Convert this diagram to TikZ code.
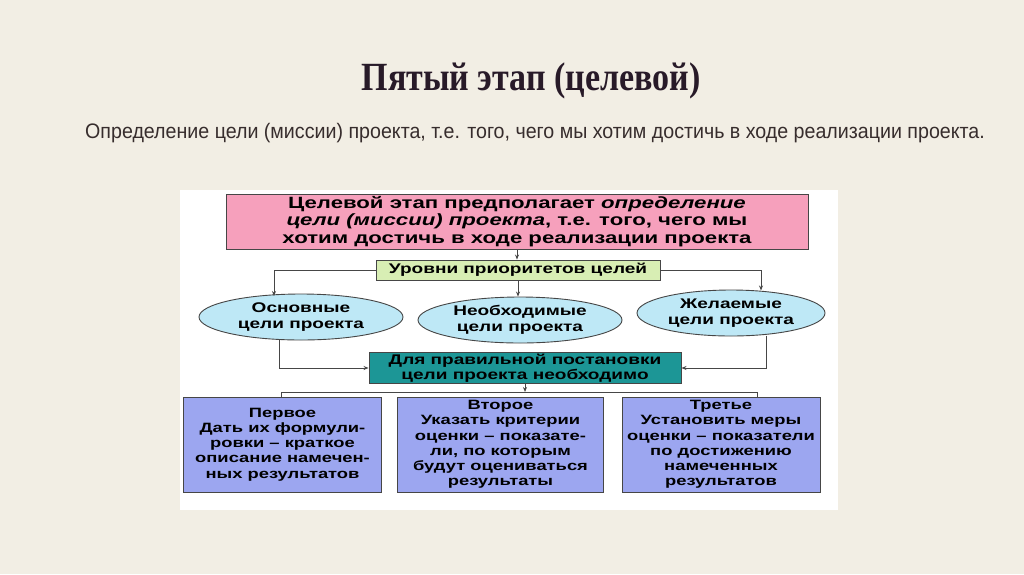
\documentclass[tikz,border=0pt]{standalone}
\usepackage{fontspec}
\setmainfont{Liberation Sans}
\newfontfamily\chartfont[FakeStretch=1.36]{Liberation Sans}
\newfontfamily\titlefont[FakeStretch=0.85]{Liberation Serif}
\newfontfamily\leadfont[FakeStretch=0.935]{Liberation Sans}
\usetikzlibrary{arrows.meta,shapes.geometric}

\definecolor{slidebg}{RGB}{242,238,228}
\definecolor{titleink}{RGB}{40,26,40}
\definecolor{leadink}{RGB}{55,45,45}
\definecolor{linegray}{RGB}{70,70,70}
\definecolor{goalpink}{RGB}{246,160,188}
\definecolor{levelgreen}{RGB}{216,238,180}
\definecolor{ovalcyan}{RGB}{190,232,246}
\definecolor{ruleteal}{RGB}{28,150,150}
\definecolor{cardblue}{RGB}{156,166,240}

\begin{document}
\begin{tikzpicture}[x=1pt, y=-1pt,
  >={Stealth[length=5pt,width=4pt]},
  link/.style={draw=linegray, line width=0.9pt},
  box/.style={draw=linegray, line width=0.9pt, align=center, inner sep=0pt},
  goalbox/.style={box, fill=goalpink, minimum width=582pt, minimum height=55pt,
    font=\chartfont\bfseries\fontsize{16.3}{17.5}\selectfont},
  levelbox/.style={box, fill=levelgreen, minimum width=284pt, minimum height=20pt,
    font=\chartfont\bfseries\fontsize{14}{15}\selectfont},
  oval/.style={box, ellipse, fill=ovalcyan, minimum height=46pt,
    font=\chartfont\bfseries\fontsize{14}{16.5}\selectfont},
  rulebox/.style={box, fill=ruleteal, minimum width=312pt, minimum height=31pt,
    font=\chartfont\bfseries\fontsize{14}{15.5}\selectfont},
  stepcard/.style={box, fill=cardblue, minimum height=95pt,
    font=\chartfont\bfseries\fontsize{13.5}{15.2}\selectfont}]
  \useasboundingbox (0,0) rectangle (1024,574);

  % Slide
  \fill[slidebg] (0,0) rectangle (1024,574);
  \fill[white] (180,190) rectangle (838,510);

  % Heading
  \node[font=\titlefont\bfseries\fontsize{40}{44}\selectfont, text=titleink] (title) at (531,81) {Пятый этап (целевой)};
  \node[font=\leadfont\fontsize{21}{24}\selectfont, text=leadink] (lead) at (535,133)
    {Определение цели (миссии) проекта, т.е. того, чего мы хотим достичь в ходе реализации проекта.};

  % Goal and levels
  \node[goalbox] (goal) at (517,221.5) {Целевой этап предполагает \textit{определение}\\
    \textit{цели (миссии) проекта}, т.е. того, чего мы\\хотим достичь в ходе реализации проекта};
  \node[levelbox] (levels) at (518,270) {Уровни приоритетов целей};

  % Three kinds of goals
  \node[oval, minimum width=204pt] (main) at (301,317) {Основные\\цели проекта};
  \node[oval, minimum width=204pt] (need) at (520,320) {Необходимые\\цели проекта};
  \node[oval, minimum width=188pt] (wish) at (731,313) {Желаемые\\цели проекта};

  \node[rulebox] (rule) at (525,368) {Для правильной постановки\\цели проекта необходимо};

  % Steps
  \node[stepcard, minimum width=198pt] (first) at (282.5,444.5)
    {Первое\\Дать их формули-\\ровки – краткое\\описание намечен-\\ных результатов};
  \node[stepcard, minimum width=206pt] (second) at (500.5,444.5)
    {Второе\\Указать критерии\\оценки – показате-\\ли, по которым\\будут оцениваться\\результаты};
  \node[stepcard, minimum width=198pt] (third) at (721,444.5)
    {Третье\\Установить меры\\оценки – показатели\\по достижению\\намеченных\\результатов};

  % Connectors
  \coordinate (mainin) at (274,296);
  \coordinate (wishin) at (761,290.5);
  \coordinate (mainout) at (279,339);
  \coordinate (wishout) at (766,335.5);
  \coordinate (busL) at (281,392);
  \coordinate (busR) at (757,392);

  \draw[link, ->] (goal.south) -- (goal.south |- levels.north);
  \draw[link, ->] (levels.west) -| (mainin);
  \draw[link, ->] (levels.east) -| (wishin);
  \draw[link, ->] (levels.south) -- (levels.south |- need.north);
  \draw[link, ->] (mainout) |- (rule.west);
  \draw[link, ->] (wishout) |- (rule.east);
  \draw[link, ->] (rule.south) -- (rule.south |- busL);
  \draw[link] (busL |- first.north) -- (busL) -- (busR) -- (busR |- third.north);
\end{tikzpicture}
\end{document}
